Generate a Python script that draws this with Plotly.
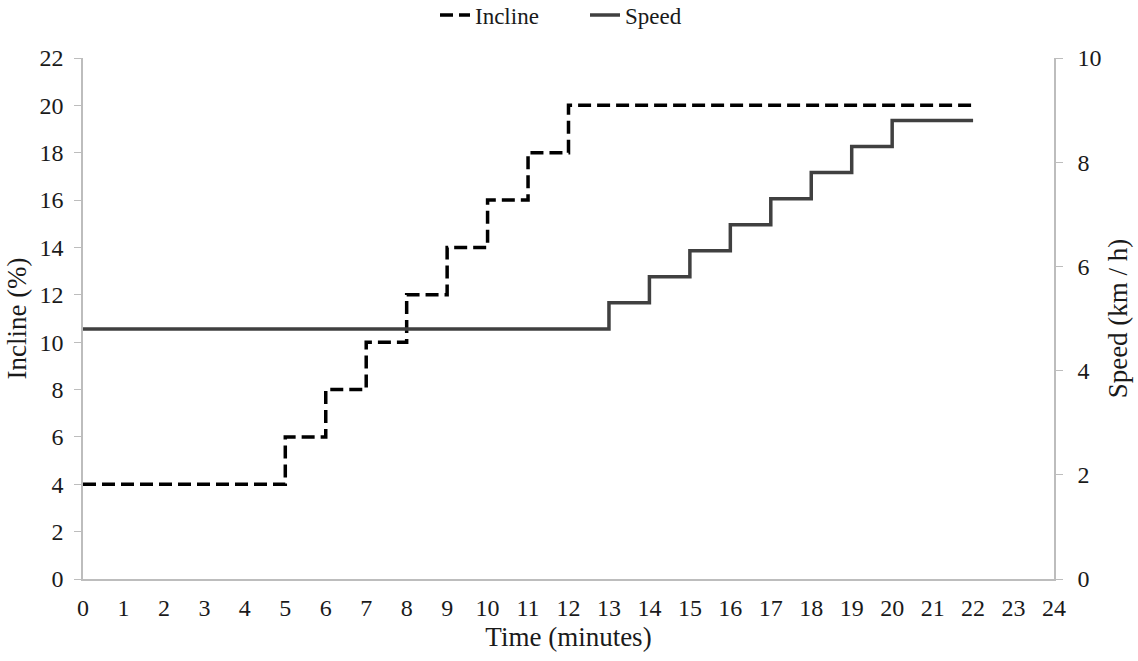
import plotly.graph_objects as go

incline_time = [0, 5, 6, 7, 8, 9, 10, 11, 12, 22]
incline_pct = [4, 6, 8, 10, 12, 14, 16, 18, 20, 20]
speed_time = [0, 13, 14, 15, 16, 17, 18, 19, 20, 22]
speed_kmh = [4.8, 5.3, 5.8, 6.3, 6.8, 7.3, 7.8, 8.3, 8.8, 8.8]

x_ticks = list(range(0, 25))
left_ticks = list(range(0, 23, 2))
right_ticks = list(range(0, 11, 2))

FONT = "Liberation Serif"
AXIS_COLOR = "#bdbdbd"

fig = go.Figure()
fig.add_trace(go.Scatter(
    x=incline_time, y=incline_pct, name="Incline", mode="lines",
    line=dict(color="#000000", width=3.5, dash="13px,6px", shape="hv"),
    yaxis="y",
))
fig.add_trace(go.Scatter(
    x=speed_time, y=speed_kmh, name="Speed", mode="lines",
    line=dict(color="#404040", width=3.5, shape="hv"),
    yaxis="y2",
))

fig.update_layout(
    width=1138, height=661,
    paper_bgcolor="white", plot_bgcolor="white",
    margin=dict(l=83, r=84, t=58, b=82, autoexpand=False),
    font=dict(family=FONT, size=24, color="#1a1a1a"),
    showlegend=True,
    legend=dict(orientation="h", x=0.517, xanchor="center", y=1.0825, yanchor="middle",
                yref="paper", font=dict(family=FONT, size=23), tracegroupgap=0,
                entrywidth=105, entrywidthmode="pixels"),
    xaxis=dict(
        range=[0, 24], tickmode="array", tickvals=x_ticks,
        ticktext=[str(v) for v in x_ticks],
        showgrid=False, zeroline=False, showline=True, linecolor=AXIS_COLOR,
        linewidth=1.5, ticks="outside", ticklen=6, tickcolor="rgba(0,0,0,0)",
        title=dict(text="Time (minutes)", standoff=8, font=dict(family=FONT, size=27)),
        tickfont=dict(family=FONT, size=24),
    ),
    yaxis=dict(
        range=[0, 22], tickmode="array", tickvals=left_ticks,
        showgrid=False, zeroline=False, showline=True, linecolor=AXIS_COLOR,
        linewidth=1.5, ticks="outside", ticklen=7, tickcolor=AXIS_COLOR,
        ticklabelstandoff=6,
        title=dict(text="Incline (%)", standoff=5, font=dict(family=FONT, size=27)),
        tickfont=dict(family=FONT, size=24),
    ),
    yaxis2=dict(
        range=[0, 10], tickmode="array", tickvals=right_ticks,
        overlaying="y", side="right",
        showgrid=False, zeroline=False, showline=True, linecolor=AXIS_COLOR,
        linewidth=1.5, ticks="outside", ticklen=7, tickcolor=AXIS_COLOR,
        ticklabelstandoff=10,
        title=dict(text="Speed (km / h)", standoff=8, font=dict(family=FONT, size=27)),
        tickfont=dict(family=FONT, size=24),
    ),
)

fig.write_html("out.html")
